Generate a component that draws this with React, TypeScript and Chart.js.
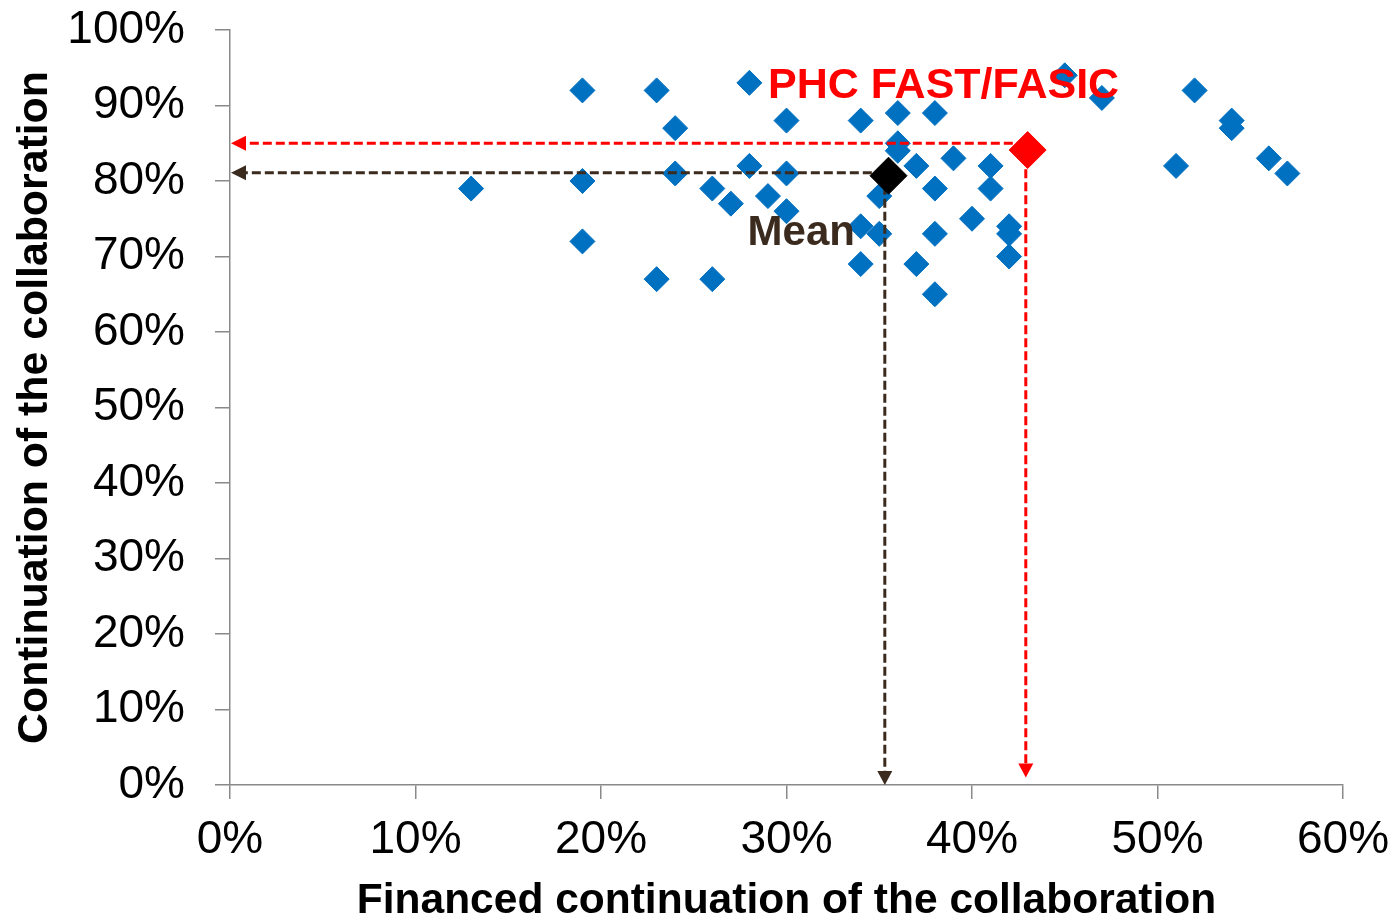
import { useEffect, useRef } from 'react';
import { Chart, registerables } from 'chart.js';

Chart.register(...registerables);

// ---- data (percent units) ----
const blueX = [13, 19, 19, 19, 23, 23, 24, 24, 26, 26, 27, 28, 28, 29, 30, 30, 30, 34, 34, 34, 35, 35, 36, 36, 36, 37, 37, 38, 38, 38, 38, 39, 40, 41, 41, 42, 42, 42, 45, 47, 51, 52, 54, 54, 56, 57];
const blueY = [79, 92, 80, 72, 92, 67, 87, 81, 67, 79, 77, 93, 82, 78, 88, 81, 76, 88, 74, 69, 78, 73, 89, 85, 84, 82, 69, 89, 79, 73, 65, 83, 75, 82, 79, 74, 73, 70, 94, 91, 82, 92, 88, 87, 83, 81];

const phcX = [43];
const phcY = [84.1];
const meanX = [35.5];
const meanY = [80.7];

// reference arrows (value where the dashed lines meet, and where they end)
const arrowX = [42.9, 35.3];
const arrowY = [85, 81.1];
const arrowXEnd = [0, 0];
const arrowYEnd = [1, 0];
const arrowColors = ['#FF0000', '#3B2A1E'];

const xTickValues = [0, 10, 20, 30, 40, 50, 60];
const yTickValues = [0, 10, 20, 30, 40, 50, 60, 70, 80, 90, 100];

const xTitle = 'Financed continuation of the collaboration';
const yTitle = 'Continuation of the collaboration';
const labelTexts = ['PHC FAST/FASIC', 'Mean'];
const labelX = [29, 27.9];
const labelY = [91, 71.5];
const labelSizes = [43, 42];
const labelColors = ['#FF0000', '#3B2A1E'];

const FONT = "'Liberation Sans', Arial, Helvetica, sans-serif";
const AXIS_COLOR = '#898989';

const arrowsPlugin = {
  id: 'refArrows',
  afterDatasetDraw(chart: any, args: any) {
    if (args.index !== 2) return;
    const { ctx } = chart;
    const xs = chart.scales.x;
    const ys = chart.scales.y;
    for (let i = 0; i < arrowX.length; i++) {
      const px = xs.getPixelForValue(arrowX[i]);
      const py = ys.getPixelForValue(arrowY[i]);
      const hx = xs.getPixelForValue(arrowXEnd[i]);
      const vy = ys.getPixelForValue(arrowYEnd[i]);
      const c = arrowColors[i];
      ctx.save();
      ctx.strokeStyle = c;
      ctx.fillStyle = c;
      ctx.lineWidth = 3;
      ctx.setLineDash([9, 4]);
      ctx.beginPath();
      ctx.moveTo(px, py);
      ctx.lineTo(hx + 14, py);
      ctx.stroke();
      ctx.beginPath();
      ctx.moveTo(px, py);
      ctx.lineTo(px, vy - 13);
      ctx.stroke();
      ctx.setLineDash([]);
      ctx.beginPath();
      ctx.moveTo(hx + 1, py);
      ctx.lineTo(hx + 16, py - 7.5);
      ctx.lineTo(hx + 16, py + 7.5);
      ctx.closePath();
      ctx.fill();
      ctx.beginPath();
      ctx.moveTo(px, vy);
      ctx.lineTo(px - 7.5, vy - 14);
      ctx.lineTo(px + 7.5, vy - 14);
      ctx.closePath();
      ctx.fill();
      ctx.restore();
    }
  },
};

const labelsPlugin = {
  id: 'refLabels',
  afterDraw(chart: any) {
    const { ctx } = chart;
    const xs = chart.scales.x;
    const ys = chart.scales.y;
    ctx.save();
    ctx.textAlign = 'left';
    ctx.textBaseline = 'alphabetic';
    for (let i = 0; i < labelTexts.length; i++) {
      ctx.font = `bold ${labelSizes[i]}px ${FONT}`;
      ctx.fillStyle = labelColors[i];
      ctx.fillText(labelTexts[i], xs.getPixelForValue(labelX[i]), ys.getPixelForValue(labelY[i]));
    }
    ctx.restore();
  },
};

export default function App() {
  const ref = useRef<HTMLCanvasElement | null>(null);

  useEffect(() => {
    if (!ref.current) return;
    const toPoints = (xs: number[], ys: number[]) => xs.map((x, i) => ({ x, y: ys[i] }));
    const chart = new Chart(ref.current, {
      type: 'scatter',
      data: {
        datasets: [
          {
            label: 'PHC FAST/FASIC',
            data: toPoints(phcX, phcY),
            pointStyle: 'rectRot',
            pointRadius: 18.5,
            backgroundColor: '#FF0000',
            borderColor: '#FF0000',
            borderWidth: 1,
          },
          {
            label: 'Mean',
            data: toPoints(meanX, meanY),
            pointStyle: 'rectRot',
            pointRadius: 18.5,
            backgroundColor: '#000000',
            borderColor: '#000000',
            borderWidth: 1,
          },
          {
            label: 'Projects',
            data: toPoints(blueX, blueY),
            pointStyle: 'rectRot',
            pointRadius: 12.5,
            backgroundColor: '#0070C0',
            borderColor: '#0070C0',
            borderWidth: 1,
          },
        ],
      },
      options: {
        animation: false,
        responsive: true,
        maintainAspectRatio: false,
        events: [],
        layout: { padding: { left: 0, top: 30, right: 54, bottom: 0 } },
        plugins: {
          legend: { display: false },
          tooltip: { enabled: false },
        },
        scales: {
          x: {
            type: 'linear',
            min: 0,
            max: 60,
            afterBuildTicks: (scale: any) => {
              scale.ticks = xTickValues.map((v) => ({ value: v }));
            },
            afterFit: (scale: any) => {
              scale.height = 134;
              scale.paddingLeft = 0;
              scale.paddingRight = 0;
            },
            ticks: {
              callback: (v: any) => `${v}%`,
              color: '#000',
              font: { family: FONT, size: 46 },
              padding: 14,
              maxRotation: 0,
              autoSkip: false,
            },
            grid: {
              drawOnChartArea: false,
              drawTicks: true,
              tickLength: 14,
              color: AXIS_COLOR,
              lineWidth: 1.5,
            },
            border: { display: true, color: AXIS_COLOR, width: 1.5 },
            title: {
              display: true,
              text: xTitle,
              color: '#000',
              font: { family: FONT, size: 42.5, weight: 'bold', lineHeight: 0.8 },
              padding: { top: 0, bottom: 1 },
            },
          },
          y: {
            type: 'linear',
            min: 0,
            max: 100,
            afterBuildTicks: (scale: any) => {
              scale.ticks = yTickValues.map((v) => ({ value: v }));
            },
            afterFit: (scale: any) => {
              scale.width = 230;
              scale.paddingTop = 0;
              scale.paddingBottom = 0;
            },
            ticks: {
              callback: (v: any) => `${v}%`,
              color: '#000',
              font: { family: FONT, size: 46 },
              padding: 30,
              autoSkip: false,
            },
            grid: {
              drawOnChartArea: false,
              drawTicks: true,
              tickLength: 15,
              color: AXIS_COLOR,
              lineWidth: 1.5,
            },
            border: { display: true, color: AXIS_COLOR, width: 1.5 },
            title: {
              display: true,
              text: yTitle,
              color: '#000',
              font: { family: FONT, size: 42.8, weight: 'bold', lineHeight: 1.2 },
              padding: { top: 10, bottom: 0 },
            },
          },
        },
      } as any,
      plugins: [arrowsPlugin, labelsPlugin],
    });
    return () => chart.destroy();
  }, []);

  return (
    <div style={{ position: 'absolute', left: 0, top: 0, width: 1397, height: 919, background: '#fff' }}>
      <canvas ref={ref} />
    </div>
  );
}
